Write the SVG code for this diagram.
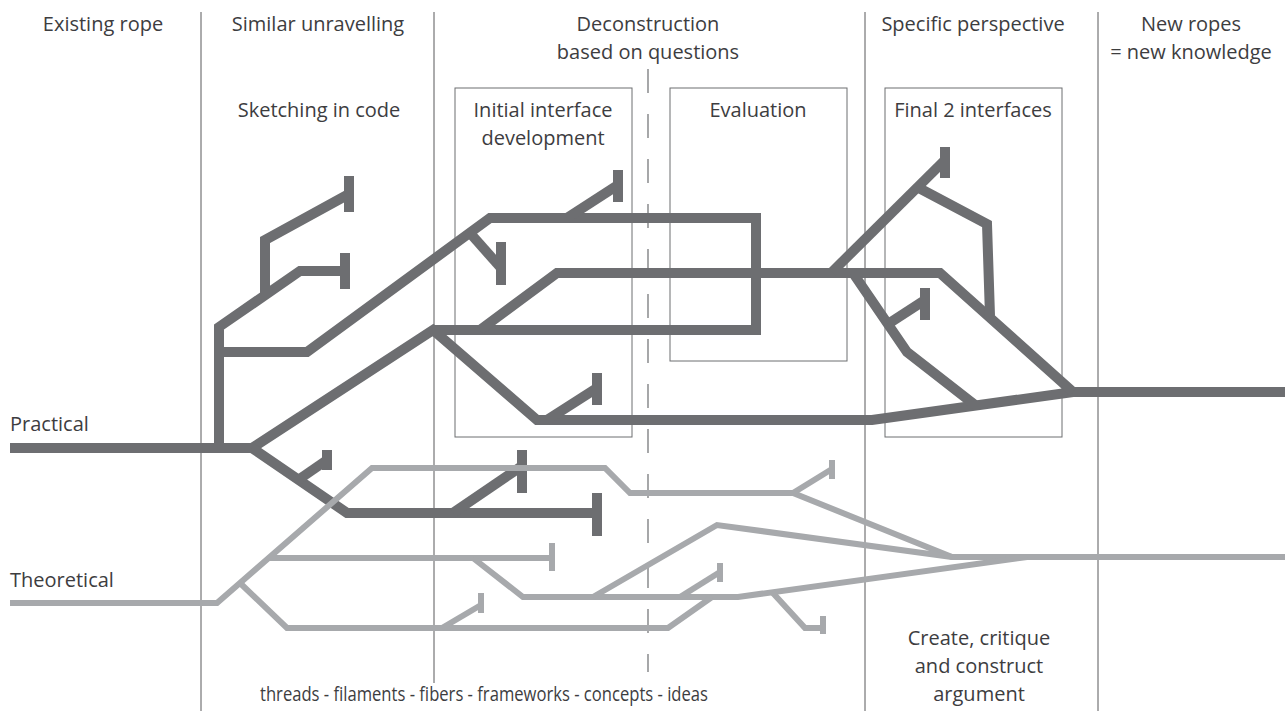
<svg xmlns="http://www.w3.org/2000/svg" width="1286" height="711" viewBox="0 0 1286 711">
  <style>
    text { font-family: "Open Sans", "Noto Sans", "Liberation Sans", sans-serif; font-size: 20px; fill: #3d3d3f; }
    .c { text-anchor: middle; }
    .sep { stroke: #58595b; stroke-width: 1; fill: none; }
    .dash { stroke: #6d6e71; stroke-width: 1.2; stroke-dasharray: 24 21; fill: none; }
    .box { stroke: #6d6e71; stroke-width: 1; fill: none; }
    .dark { stroke: #6d6e71; stroke-width: 10; fill: none; stroke-linejoin: miter; stroke-linecap: butt; }
    .light { stroke: #a7a9ac; stroke-width: 6; fill: none; stroke-linejoin: miter; stroke-linecap: butt; }
  </style>
  <rect width="1286" height="711" fill="#ffffff"/>

  <!-- column separators -->
  <g id="separators">
    <line class="sep" x1="201" y1="12" x2="201" y2="711"/>
    <line class="sep" x1="434" y1="12" x2="434" y2="683"/>
    <line class="dash" x1="648" y1="69" x2="648" y2="672"/>
    <line class="sep" x1="865" y1="12" x2="865" y2="711"/>
    <line class="sep" x1="1098" y1="12" x2="1098" y2="711"/>
  </g>

  <!-- column headings -->
  <g id="headings">
    <text class="c" x="103" y="31">Existing rope</text>
    <text class="c" x="318" y="31">Similar unravelling</text>
    <text class="c" x="648" y="31">Deconstruction</text>
    <text class="c" x="648" y="59">based on questions</text>
    <text class="c" x="973" y="31">Specific perspective</text>
    <text class="c" x="1191" y="31">New ropes</text>
    <text class="c" x="1191" y="59">= new knowledge</text>
    <text class="c" x="319" y="117">Sketching in code</text>
  </g>

  <!-- phase boxes -->
  <g id="box-initial">
    <rect class="box" x="455" y="88" width="177" height="349"/>
    <text class="c" x="543" y="117">Initial interface</text>
    <text class="c" x="543" y="145">development</text>
  </g>
  <g id="box-evaluation">
    <rect class="box" x="670" y="88" width="177" height="273"/>
    <text class="c" x="758" y="117">Evaluation</text>
  </g>
  <g id="box-final">
    <rect class="box" x="885" y="88" width="177" height="349"/>
    <text class="c" x="973" y="117">Final 2 interfaces</text>
  </g>

  <!-- strand labels -->
  <g id="labels">
    <text x="10" y="431">Practical</text>
    <text x="10" y="587">Theoretical</text>
    <text x="260" y="701" style="font-size:19.5px" textLength="448" lengthAdjust="spacingAndGlyphs">threads - filaments - fibers - frameworks - concepts - ideas</text>
    <text class="c" x="979" y="645">Create, critique</text>
    <text class="c" x="979" y="673">and construct</text>
    <text class="c" x="979" y="701">argument</text>
  </g>

  <!-- strands -->
  <g id="connectors">
    <!-- practical rope -->
    <g id="practical">
      <path class="dark" d="M10,448 H252 L433,330 L537,420 H872 L1073,392 H1285"/>
      <path class="dark" d="M219,448 V327 L300,271 H345"/>
      <path class="dark" d="M345,253 V289"/>
      <path class="dark" d="M265,296 V240 L349,194"/>
      <path class="dark" d="M349,176 V212"/>
      <path class="dark" d="M219,352 H307 L490,218 H756 V330 H433"/>
      <path class="dark" d="M480,330 L557,273 H940 L1073,392"/>
      <path class="dark" d="M832,272 L945,160"/>
      <path class="dark" d="M945,147 V178"/>
      <path class="dark" d="M917,187 L987,224 L990,316"/>
      <path class="dark" d="M853,273 L907,352 L975,405"/>
      <path class="dark" d="M888,324 L925,300"/>
      <path class="dark" d="M925,288 V320"/>
      <path class="dark" d="M547,420 L597,388"/>
      <path class="dark" d="M597,373 V405"/>
      <path class="dark" d="M567,218 L618,185"/>
      <path class="dark" d="M618,170 V202"/>
      <path class="dark" d="M470,233 L501,268"/>
      <path class="dark" d="M501,242 V285"/>
      <path class="dark" d="M252,448 L347,513 H597"/>
      <path class="dark" d="M597,493 V536"/>
      <path class="dark" d="M453,513 L522,466"/>
      <path class="dark" d="M522,450 V493"/>
      <path class="dark" d="M298,480 L327,460"/>
      <path class="dark" d="M327,450 V470"/>
    </g>
    <!-- theoretical rope -->
    <g id="theoretical">
      <path class="light" d="M10,603 H217 L372,468 H605 L630,493 H793 L952,557 H1285"/>
      <path class="light" d="M793,493 L832,469"/>
      <path class="light" d="M832,460 V479"/>
      <path class="light" d="M268,558 H552"/>
      <path class="light" d="M552,543 V571"/>
      <path class="light" d="M473,558 L523,597 H738 L1027,557"/>
      <path class="light" d="M593,597 L717,525 L952,557"/>
      <path class="light" d="M680,597 L720,572"/>
      <path class="light" d="M720,563 V582"/>
      <path class="light" d="M772,592 L805,628 H823"/>
      <path class="light" d="M823,616 V634"/>
      <path class="light" d="M240,583 L287,628 H668 L712,597"/>
      <path class="light" d="M442,628 L481,605"/>
      <path class="light" d="M481,593 V613"/>
    </g>
  </g>
</svg>
